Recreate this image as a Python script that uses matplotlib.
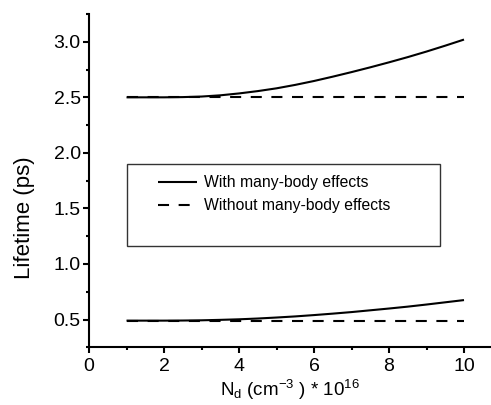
import matplotlib
matplotlib.use("Agg")
import matplotlib.pyplot as plt
from matplotlib.ticker import MultipleLocator
from matplotlib.patches import Rectangle

plt.rcParams['font.family'] = ['Liberation Sans', 'DejaVu Sans']
plt.rcParams['mathtext.default'] = 'regular'

# Data
n_d = [1, 2, 2.5, 3, 3.5, 4, 4.5, 5, 5.5, 6, 6.5, 7, 7.5, 8, 8.5, 9, 9.5, 10]
upper_with = [2.500, 2.500, 2.502, 2.507, 2.518, 2.535, 2.556, 2.581, 2.612,
              2.647, 2.686, 2.727, 2.770, 2.815, 2.862, 2.912, 2.965, 3.020]
upper_without = [2.50] * len(n_d)
lower_with = [0.490, 0.490, 0.491, 0.493, 0.497, 0.502, 0.509, 0.518, 0.528,
              0.540, 0.553, 0.567, 0.583, 0.599, 0.616, 0.635, 0.655, 0.675]
lower_without = [0.49] * len(n_d)
labels = ["With many-body effects", "Without many-body effects"]

W, H = 491, 405
fig = plt.figure(figsize=(W/100, H/100), dpi=100)
ax_l, ax_r, ax_b, ax_t = 89, 491, 347.3, 14
ax = fig.add_axes([ax_l/W, (H-ax_b)/H, (ax_r-ax_l)/W, (ax_b-ax_t)/H])

fs_tick = 14
fs_xlab = 13.5
fs_ylab = 16
fs_leg = 11.3
dash = (5.3, 4.6)
l1, = ax.plot(n_d, upper_with, color='black', lw=1.5, solid_capstyle='butt')
l2, = ax.plot(n_d, upper_without, color='black', lw=1.5, dashes=dash, dash_capstyle='butt')
ax.plot(n_d, lower_with, color='black', lw=1.5, solid_capstyle='butt')
ax.plot(n_d, lower_without, color='black', lw=1.5, dashes=dash, dash_capstyle='butt')

ax.set_xlim(0, 10.72)
ax.set_ylim(0.25, 3.25)
ax.xaxis.set_major_locator(MultipleLocator(2))
ax.xaxis.set_minor_locator(MultipleLocator(1))
ax.yaxis.set_minor_locator(MultipleLocator(0.25))
ax.set_yticks([0.5, 1.0, 1.5, 2.0, 2.5, 3.0])

for s in ['top', 'right']:
    ax.spines[s].set_visible(False)
for s in ['left', 'bottom']:
    ax.spines[s].set_linewidth(1.5)

ax.tick_params(which='major', direction='out', length=4.5, width=1.5, labelsize=fs_tick)
ax.tick_params(which='minor', direction='out', length=2.2, width=1.5)
ax.tick_params(axis='y', which='major', pad=1.5)
ax.tick_params(axis='x', which='major', pad=3)

ax.set_ylabel("Lifetime (ps)", fontsize=fs_ylab)
ax.yaxis.set_label_coords((35 - ax_l) / (ax_r - ax_l), (ax_b - 218) / (ax_b - ax_t))
ax.set_xlabel("N$_\\mathregular{d}$ (cm$^{-3}$ ) * 10$^{16}$", fontsize=fs_xlab, labelpad=2)

# legend box
fig.add_artist(Rectangle((127/W, (H-246)/H), (440-127)/W, (246-164)/H,
                         transform=fig.transFigure, fill=False,
                         edgecolor='#333333', lw=1.0))
leg = ax.legend([l1, l2], labels, loc='upper left',
                bbox_to_anchor=(158/W, (H-175.5)/H), bbox_transform=fig.transFigure,
                frameon=False, fontsize=fs_leg, handlelength=2.5, handletextpad=0.4,
                labelspacing=0.48, borderpad=0, borderaxespad=0)

fig.savefig("out.png", dpi=100)
